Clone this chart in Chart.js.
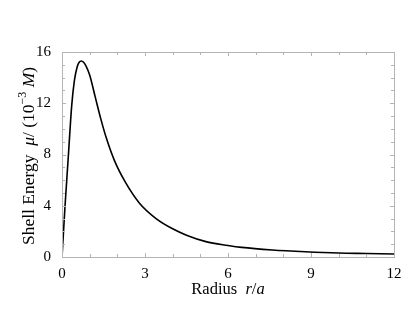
<!DOCTYPE html>
<html lang="en">
    <head>
        <meta charset="UTF-8" />
        <title>Shell Energy</title>
        <style>
            body {
                margin: 0;
                background: #fff;
            }
            #wrap {
                width: 415px;
                height: 310px;
            }
        </style>
    </head>
    <body>
        <div id="wrap">
            <canvas id="shellChart" width="415" height="310"></canvas>
        </div>

        <script src="https://cdn.jsdelivr.net/npm/chart.js"></script>
        <script>
            // values
            const radius = [
                0, 0.05, 0.11, 0.23, 0.35, 0.45, 0.55, 0.62, 0.7, 0.78, 0.87,
                1.0, 1.2, 1.4, 1.6, 1.9, 2.3, 2.8, 3.4, 4.0, 4.5, 5.2, 6.0,
                6.5, 7.6, 8.8, 10, 11, 12,
            ];
            const energy = [
                0, 1.8, 4.0, 7.9, 11.8, 13.8, 14.85, 15.2, 15.3, 15.2, 14.9,
                14.2, 12.5, 10.8, 9.3, 7.5, 5.8, 4.2, 3.0, 2.2, 1.7, 1.2, 0.9,
                0.75, 0.55, 0.41, 0.31, 0.27, 0.23,
            ];
            const xLabels = [0, 3, 6, 9, 12];
            const yLabels = [0, 4, 8, 12, 16];

            const xTitle = [
                ["Radius  ", ""],
                ["r", "italic"],
                ["/", ""],
                ["a", "italic"],
            ];
            const yTitle = [
                ["Shell Energy  ", ""],
                ["μ", "italic"],
                ["/ (10", ""],
                ["−3", "sup"],
                [" M", "italic"],
                [")", ""],
            ];

            const serif = "'Liberation Serif', 'DejaVu Serif', serif";

            function fontFor(style, size) {
                if (style === "italic") return `italic ${size}px ${serif}`;
                if (style === "sup") return `${Math.round(size * 0.7)}px ${serif}`;
                return `${size}px ${serif}`;
            }

            // writes a title made of mixed normal / italic pieces, centred on (cx, cy)
            function drawTitle(c, parts, cx, cy, angle, size) {
                c.save();
                c.translate(cx, cy);
                c.rotate(angle);
                c.textBaseline = "middle";
                c.fillStyle = "#000";
                let total = 0;
                parts.forEach(([t, s]) => {
                    c.font = fontFor(s, size);
                    total += c.measureText(t).width;
                });
                let x = -total / 2;
                parts.forEach(([t, s]) => {
                    c.font = fontFor(s, size);
                    c.fillText(t, x, s === "sup" ? -size * 0.33 : 0);
                    x += c.measureText(t).width;
                });
                c.restore();
            }

            // frame + inward ticks, like the original plot
            const framePlugin = {
                id: "frame",
                afterDraw(chart) {
                    const c = chart.ctx;
                    const a = chart.chartArea;
                    const xs = chart.scales.x;
                    const ys = chart.scales.y;
                    c.save();
                    c.strokeStyle = "#b4b4b4";
                    c.lineWidth = 1;
                    c.beginPath();
                    for (let v = 0; v <= 12; v++) {
                        const px = Math.round(xs.getPixelForValue(v)) + 0.5;
                        const len = xLabels.includes(v) ? 4 : 3;
                        c.moveTo(px, a.bottom);
                        c.lineTo(px, a.bottom - len);
                        c.moveTo(px, a.top);
                        c.lineTo(px, a.top + len);
                    }
                    for (let v = 0; v <= 16; v++) {
                        const py = Math.round(ys.getPixelForValue(v)) + 0.5;
                        const len = yLabels.includes(v) ? 4 : 3;
                        c.moveTo(a.left, py);
                        c.lineTo(a.left + len, py);
                        c.moveTo(a.right, py);
                        c.lineTo(a.right - len, py);
                    }
                    c.stroke();
                    c.strokeRect(
                        Math.round(a.left) + 0.5,
                        Math.round(a.top) + 0.5,
                        Math.round(a.right - a.left),
                        Math.round(a.bottom - a.top)
                    );
                    c.restore();

                    drawTitle(c, xTitle, (a.left + a.right) / 2, 290, 0, 16.5);
                    drawTitle(c, yTitle, 29, 156, -Math.PI / 2, 17.5);
                },
            };

            const ctx = document.getElementById("shellChart").getContext("2d");
            const chart = new Chart(ctx, {
                type: "scatter",
                data: {
                    datasets: [
                        {
                            data: radius.map((r, i) => ({ x: r, y: energy[i] })),
                            showLine: true,
                            borderColor: "#000",
                            borderWidth: 1.6,
                            pointRadius: 0,
                            cubicInterpolationMode: "monotone",
                        },
                    ],
                },
                options: {
                    responsive: false,
                    animation: false,
                    layout: {
                        padding: { top: 52, right: 21, left: 0, bottom: 0 },
                    },
                    plugins: {
                        legend: { display: false },
                        tooltip: { enabled: false },
                    },
                    scales: {
                        x: {
                            type: "linear",
                            min: 0,
                            max: 12,
                            grid: { display: false },
                            border: { display: false },
                            ticks: {
                                stepSize: 1,
                                autoSkip: false,
                                maxRotation: 0,
                                padding: 0,
                                color: "#000",
                                font: { family: serif, size: 15 },
                                callback: (v) => (xLabels.includes(v) ? v : ""),
                            },
                            afterFit(scale) {
                                scale.height = 310 - 257;
                            },
                        },
                        y: {
                            min: 0,
                            max: 16,
                            grid: { display: false },
                            border: { display: false },
                            ticks: {
                                stepSize: 1,
                                autoSkip: false,
                                padding: 3,
                                color: "#000",
                                font: { family: serif, size: 15 },
                                callback: (v) => (yLabels.includes(v) ? v : ""),
                            },
                            afterFit(scale) {
                                scale.width = 62;
                            },
                        },
                    },
                },
                plugins: [framePlugin],
            });
        </script>
    </body>
</html>
